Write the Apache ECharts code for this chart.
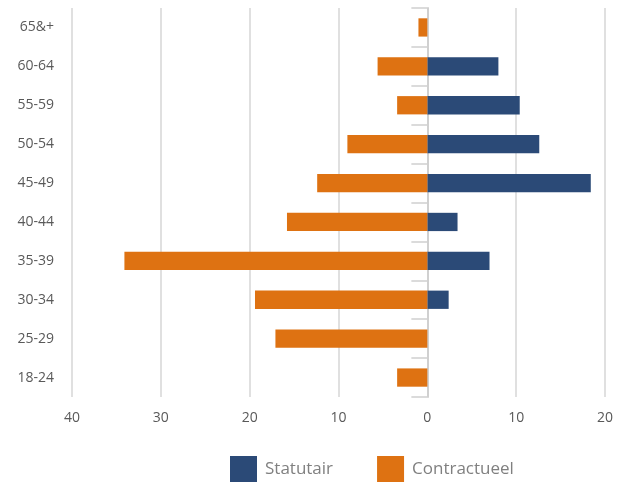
<!DOCTYPE html>
<html>
<head>
<meta charset="utf-8">
<script src="https://cdn.jsdelivr.net/npm/echarts@6/dist/echarts.min.js"></script>
<style>
  html, body { margin: 0; padding: 0; background: #fff; }
  #chart { width: 618px; height: 482px; }
</style>
</head>
<body>
<div id="chart"></div>
<script>
  // leeftijdsgroepen, van onder naar boven
  const ageGroups = ['18-24', '25-29', '30-34', '35-39', '40-44', '45-49', '50-54', '55-59', '60-64', '65&+'];
  // Statutair (rechts, positief)
  const statutair = [0, 0, 2.4, 7.0, 3.4, 18.4, 12.6, 10.4, 8.0, 0];
  // Contractueel (links, getoond als negatief)
  const contractueel = [3.4, 17.1, 19.4, 34.1, 15.8, 12.4, 9.0, 3.4, 5.6, 1.0];
  const xTicks = { min: -40, max: 20, step: 10 };

  const chart = echarts.init(document.getElementById('chart'));

  const option = {
    animation: false,
    textStyle: { fontFamily: 'Open Sans' },
    grid: { left: 72, right: 13, top: 8, bottom: 85 },
    legend: {
      top: 456,
      left: 230,
      padding: 0,
      itemWidth: 27,
      itemHeight: 26,
      itemGap: 44,
      icon: 'rect',
      textStyle: { color: '#808080', fontSize: 17, padding: [0, 0, 0, 3] },
      data: ['Statutair', 'Contractueel']
    },
    xAxis: {
      type: 'value',
      min: xTicks.min,
      max: xTicks.max,
      interval: xTicks.step,
      axisLine: { show: false },
      axisTick: { show: false },
      axisLabel: {
        color: '#595959',
        fontSize: 14,
        margin: 14,
        formatter: v => Math.abs(v)
      },
      splitLine: { lineStyle: { color: '#d6d6d6', width: 1.5 } }
    },
    yAxis: {
      type: 'category',
      data: ageGroups,
      axisLine: { show: true, lineStyle: { color: '#d0d0d0', width: 2 } },
      axisTick: { show: true, length: 16, lineStyle: { color: '#d0d0d0', width: 1.5 } },
      axisLabel: { color: '#595959', fontSize: 14, margin: 18 }
    },
    series: [
      {
        name: 'Statutair',
        type: 'bar',
        data: statutair,
        barWidth: '47%',
        barGap: '-100%',
        itemStyle: { color: '#2b4a77' }
      },
      {
        name: 'Contractueel',
        type: 'bar',
        data: contractueel.map(v => -v),
        barWidth: '47%',
        itemStyle: { color: '#de7212' }
      }
    ]
  };

  chart.setOption(option);
</script>
</body>
</html>
